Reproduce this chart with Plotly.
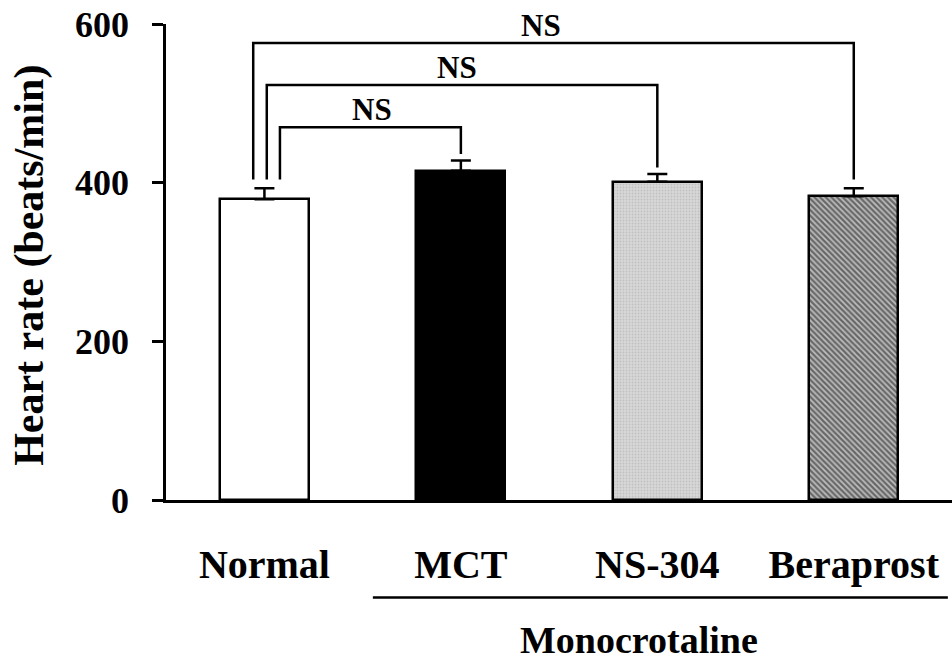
import plotly.graph_objects as go

# Group data: mean heart rate and SEM
groups = ["Normal", "MCT", "NS-304", "Beraprost"]
heart_rate = [379, 415, 401, 383]
sem = [14, 13, 10, 10]

# Pairwise comparisons: (left leg x, right group index, bar height, left foot, right foot, label x)
cmp_left_x = [0.079, 0.012, -0.057]
cmp_right_idx = [1, 2, 3]
cmp_height = [470, 523, 576]
cmp_left_foot = [404, 404, 404]
cmp_right_foot = [436, 419, 404]
cmp_label_x = [0.55, 0.98, 1.41]
cmp_label = ["NS", "NS", "NS"]

y_ticks = [0, 200, 400, 600]

FONT = "Liberation Serif"
xs = list(range(len(groups)))

fills = ["white", "black", "#d4d4d4", "#7a7a7a"]
patterns = [
    dict(shape=""),
    dict(shape=""),
    dict(shape=".", fgcolor="#a8a8a8", bgcolor="#d8d8d8", size=3, solidity=0.3),
    dict(shape="\\", fgcolor="#111111", bgcolor="#bdbdbd", size=4, solidity=0.55),
]

fig = go.Figure()
for i, g in enumerate(groups):
    fig.add_trace(go.Bar(
        x=[xs[i]], y=[heart_rate[i]], width=0.453,
        marker=dict(color=fills[i], line=dict(color="black", width=2.5),
                    pattern=patterns[i]),
        error_y=dict(type="data", array=[sem[i]], arrayminus=[0], symmetric=False,
                     thickness=2.5, width=10, color="black"),
        showlegend=False, name=g,
    ))

shapes = []
annotations = []
for lx, ri, h, lf, rf, tx, lab in zip(cmp_left_x, cmp_right_idx, cmp_height,
                                      cmp_left_foot, cmp_right_foot, cmp_label_x, cmp_label):
    rx = xs[ri]
    shapes.append(dict(type="path", xref="x", yref="y",
                       path=f"M {lx},{lf} L {lx},{h} L {rx},{h} L {rx},{rf}",
                       line=dict(color="black", width=2.5)))
    annotations.append(dict(x=tx, y=h, xref="x", yref="y", text=lab, showarrow=False,
                            yanchor="middle", yshift=18,
                            font=dict(family=FONT, size=31, color="black", weight="bold")))

# Bracket grouping the monocrotaline-treated groups
shapes.append(dict(type="line", xref="x", yref="paper", x0=0.552, x1=3.479,
                   y0=-0.2046, y1=-0.2046, line=dict(color="black", width=2.5)))
annotations.append(dict(x=1.906, y=-0.294, xref="x", yref="paper", text="Monocrotaline",
                        showarrow=False, xanchor="center", yanchor="middle",
                        font=dict(family=FONT, size=38, color="black", weight="bold")))
# Y-axis title
annotations.append(dict(x=-0.173, y=0.492, xref="paper", yref="paper",
                        text="Heart rate (beats/min)", textangle=-90, showarrow=False,
                        xanchor="center", yanchor="middle",
                        font=dict(family=FONT, size=42, color="black", weight="bold")))

fig.update_layout(
    width=952, height=661,
    margin=dict(l=166, r=0, t=24, b=160.5),
    paper_bgcolor="white", plot_bgcolor="white",
    shapes=shapes, annotations=annotations,
    bargap=0,
    xaxis=dict(range=[-0.501, 3.5], tickvals=xs, ticktext=groups, showgrid=False,
               zeroline=False, showline=True, linecolor="black", linewidth=2.5,
               ticks="", ticklabelstandoff=27,
               tickfont=dict(family=FONT, size=40, color="black", weight="bold")),
    yaxis=dict(range=[0, 600], tickvals=y_ticks, showgrid=False, zeroline=False,
               showline=True, linecolor="black", linewidth=2.5,
               ticks="outside", ticklen=11, tickwidth=2.5, tickcolor="black",
               ticklabelstandoff=16,
               tickfont=dict(family=FONT, size=36, color="black", weight="bold")),
)

fig.write_html("out.html")
